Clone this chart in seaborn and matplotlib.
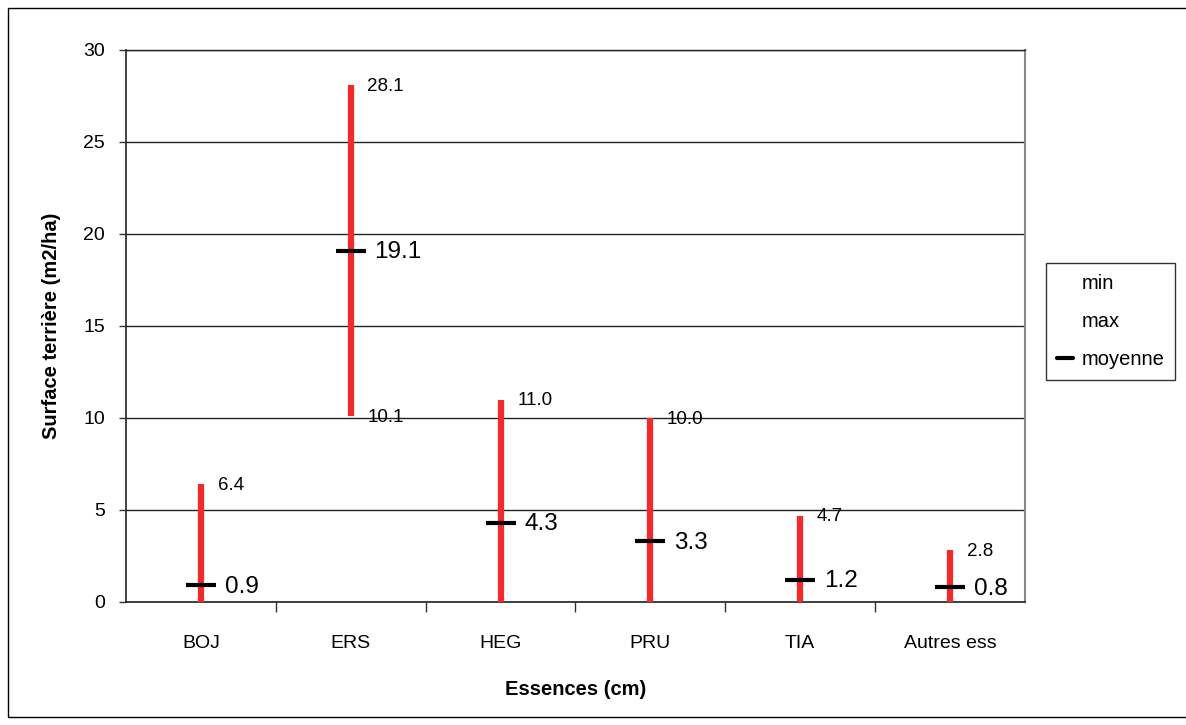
import matplotlib
matplotlib.use("Agg")
import matplotlib.pyplot as plt
import seaborn as sns
import pandas as pd
import numpy as np
from matplotlib.patches import Rectangle
from matplotlib.lines import Line2D

categories = ["BOJ", "ERS", "HEG", "PRU", "TIA", "Autres ess"]
min_vals = [0.0, 10.1, 0.0, 0.0, 0.0, 0.0]
max_vals = [6.4, 28.1, 11.0, 10.0, 4.7, 2.8]
mean_vals = [0.9, 19.1, 4.3, 3.3, 1.2, 0.8]
min_labelled = ["ERS"]

sns.set_style("white")
plt.rcParams['font.family'] = ['Liberation Sans', 'DejaVu Sans']
plt.rcParams['text.color'] = 'black'
plt.rcParams['axes.labelcolor'] = 'black'
plt.rcParams['xtick.color'] = 'black'
plt.rcParams['ytick.color'] = 'black'

df = pd.DataFrame({"cat": categories, "min": min_vals, "max": max_vals, "moyenne": mean_vals})
df["pos"] = np.arange(len(categories))

fig = plt.figure(figsize=(11.86, 7.25), dpi=100)
W, H = 1186, 725
ax = fig.add_axes([126 / W, 1 - 602 / H, (1025 - 126) / W, (602 - 50) / H])

# outer chart border
fig.patches.append(Rectangle((8 / W, 8 / H), 1.2, 1 - 16 / H, transform=fig.transFigure,
                             fill=False, edgecolor="black", linewidth=1.0))

ax.set_xlim(-0.5, len(categories) - 0.5)
ax.set_ylim(0, 30)
ax.set_yticks(range(0, 31, 5))
ax.yaxis.grid(True, color="#222222", linewidth=1.0)
ax.set_axisbelow(True)

# high-low bars
ax.vlines(df["pos"], df["min"], df["max"], color="#f42a2a", linewidth=4.5, zorder=3)

# mean markers
sns.scatterplot(data=df, x="pos", y="moyenne", marker="_", s=480, color="black",
                linewidth=3.0, ax=ax, zorder=4, legend=False)

for _, r in df.iterrows():
    ax.annotate(f"{r['max']:.1f}", (r["pos"], r["max"]), xytext=(12, -1),
                textcoords="offset points", ha="left", va="center", fontsize=13.5, zorder=5)
    ax.annotate(f"{r['moyenne']:.1f}", (r["pos"], r["moyenne"]), xytext=(17, -1),
                textcoords="offset points", ha="left", va="center", fontsize=17.5, zorder=5)
    if r["cat"] in min_labelled:
        ax.annotate(f"{r['min']:.1f}", (r["pos"], r["min"]), xytext=(12, -1),
                    textcoords="offset points", ha="left", va="center", fontsize=13.5, zorder=5)

ax.set_xticks(np.arange(len(categories)))
ax.set_xticklabels(categories, fontsize=14)
ax.set_xticks(np.arange(len(categories) - 1) + 0.5, minor=True)
ax.tick_params(axis="x", which="major", bottom=False, length=0, pad=24)
ax.tick_params(axis="x", which="minor", bottom=True, length=7, width=1, color="#333333", direction="out")
ax.tick_params(axis="y", left=True, length=5, width=1, color="#333333", direction="out", labelsize=14, pad=10)

for s in ["left", "bottom"]:
    ax.spines[s].set_color("#222222")
    ax.spines[s].set_linewidth(1.2)
ax.spines["right"].set_color("#888888")
ax.spines["right"].set_linewidth(1.5)
ax.spines["top"].set_color("#222222")
ax.spines["top"].set_linewidth(1.0)

ax.set_xlabel("Essences (cm)", fontsize=14.5, fontweight="bold", labelpad=20)
ax.set_ylabel("Surface terrière (m2/ha)", fontsize=14.5, fontweight="bold", labelpad=16)

handles = [Line2D([], [], color="none"), Line2D([], [], color="none"),
           Line2D([], [], color="black", linewidth=3)]
leg = fig.legend(handles, ["min", "max", "moyenne"], loc="upper left",
                 bbox_to_anchor=(1046 / W, 1 - 263 / H), fontsize=14.5, frameon=True,
                 fancybox=False, edgecolor="black", handlelength=0.8, handletextpad=0.4,
                 labelspacing=0.95, borderpad=0.55, borderaxespad=0)
leg.get_frame().set_linewidth(1.0)

fig.savefig("out.png", dpi=100)
